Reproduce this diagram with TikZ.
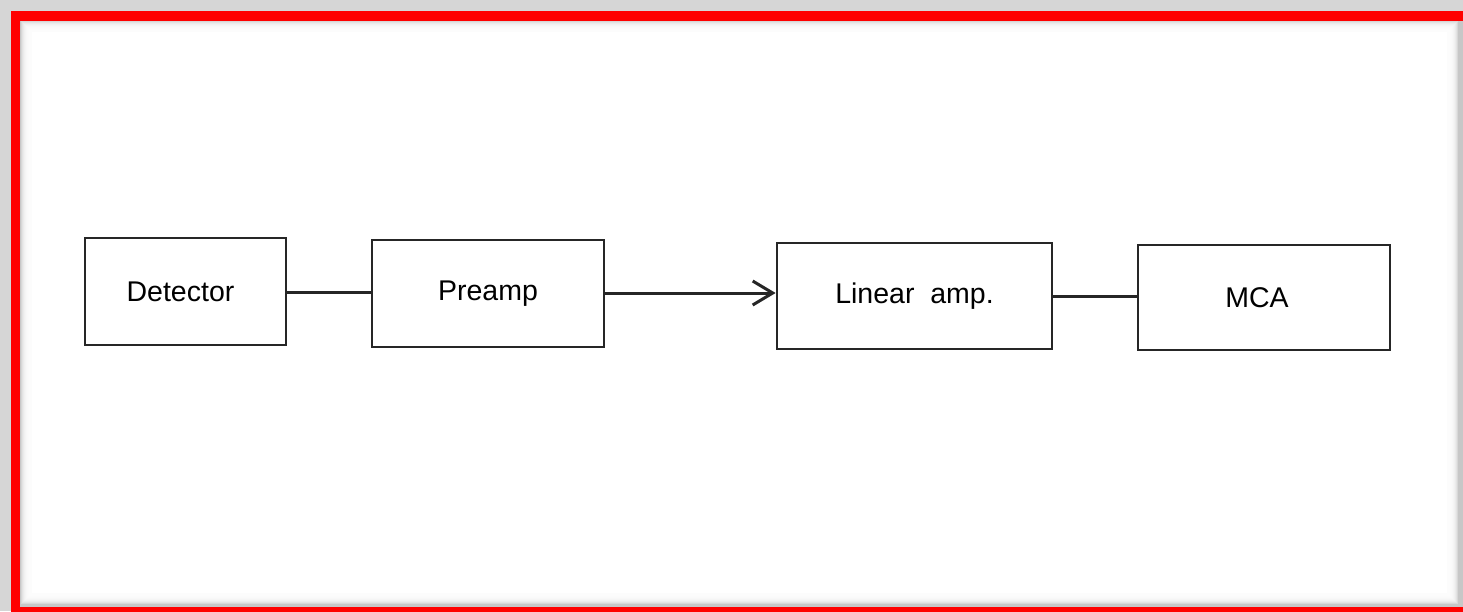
\documentclass[tikz,border=0pt]{standalone}
\usepackage{fontspec}
\setmainfont{Liberation Sans}
\usetikzlibrary{arrows.meta}
\begin{document}
\begin{tikzpicture}[x=1pt,y=-1pt,
  block/.style={draw=black!85,line width=2.8pt,inner sep=0pt,
    font=\fontsize{28.5}{32}\selectfont},
  link/.style={draw=black!85,line width=3pt},
  feed/.style={link,-{Straight Barb[length=20pt,width=24pt,line width=3pt]}},
]
% page with drop shadow and red frame
\useasboundingbox (0,0) rectangle (1463,611);
\fill[black!16] (0,0) rectangle (1463,611);
\fill[black!22] (20,20) rectangle (1463,611);
\foreach \i in {0,...,10}
  \fill[white,opacity=0.3] (21+\i,21+\i) rectangle (1458-\i,604-\i);
\fill[white] (32,32) rectangle (1447,593);
\draw[red,line width=9.5pt] (15.3,15.8) rectangle (1490,612);

% signal chain
\node[block,minimum width=201pt,minimum height=107pt] (det) at (185.5,291.5) {\hspace*{-10pt}Detector};
\node[block,minimum width=232pt,minimum height=107pt] (pre) at (488,293.5) {\raisebox{3pt}{Preamp}};
\node[block,minimum width=275pt,minimum height=106pt] (lin) at (914.5,296) {\raisebox{3pt}{Linear\ \ amp.}};
\node[block,minimum width=252pt,minimum height=105pt] (mca) at (1264,297.5) {\hspace*{-14pt}MCA};

\draw[link] ([yshift=-0.5pt]det.east) -- ([yshift=-0.5pt]det.east -| pre.west);
\draw[feed] ([yshift=0.5pt]pre.east) -- ([yshift=0.5pt]pre.east -| lin.west);
\draw[link] (lin.east) -- (lin.east -| mca.west);
\end{tikzpicture}
\end{document}
